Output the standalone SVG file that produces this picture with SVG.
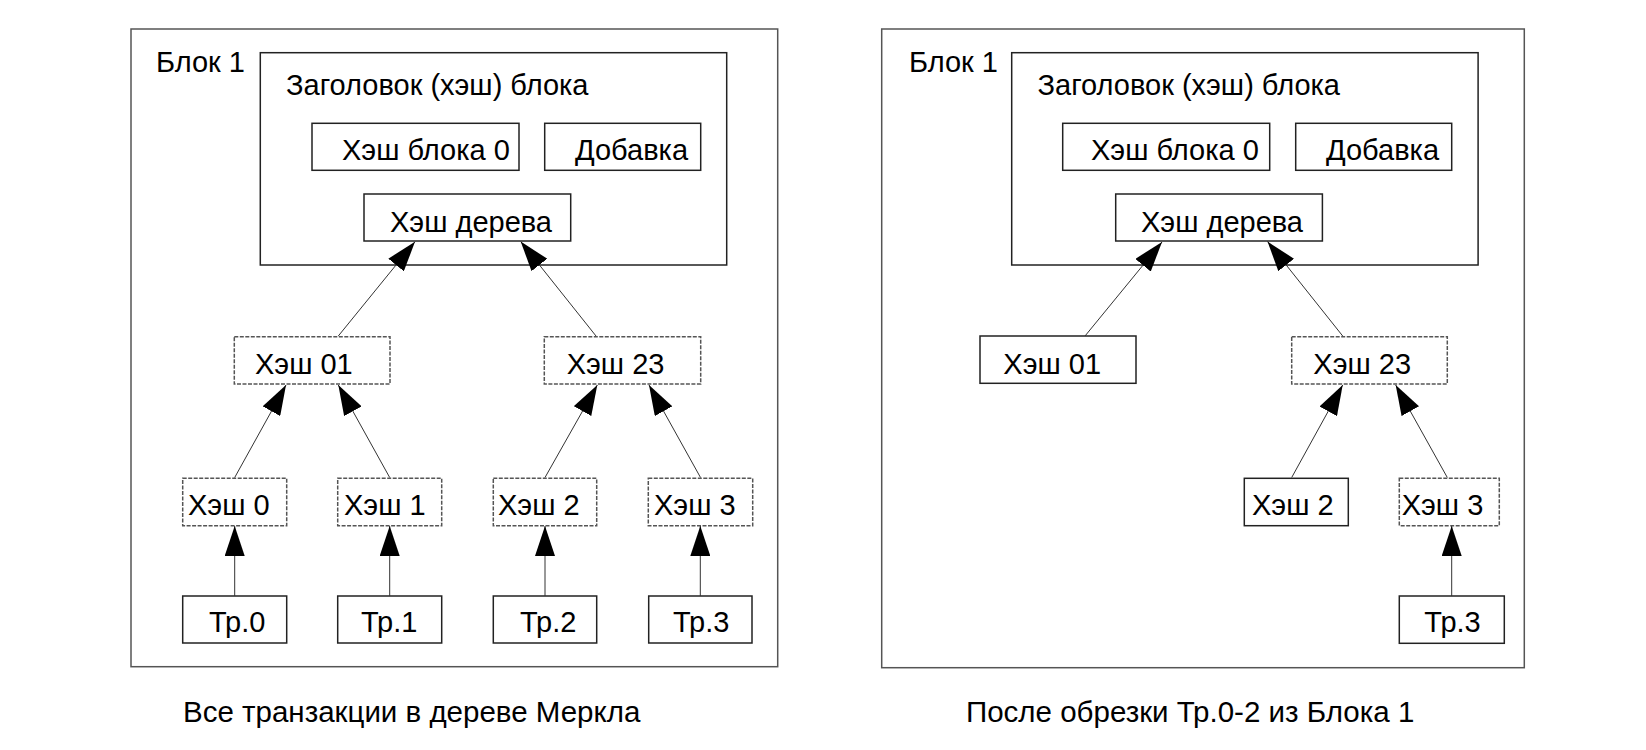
<svg xmlns="http://www.w3.org/2000/svg" width="1646" height="750" viewBox="0 0 1646 750">
<defs>
<marker id="arr" markerUnits="userSpaceOnUse" markerWidth="30" markerHeight="20" viewBox="0 0 30 20" refX="30" refY="10" orient="auto">
<path d="M0,0 L30,10 L0,20 z" fill="#000"/>
</marker>
</defs>
<style>
text{font-family:"Liberation Sans",Arial,sans-serif;font-size:29px;fill:#000}
.cap{font-size:29.5px}
.outer{fill:#fff;stroke:#555;stroke-width:1.5}
.box{fill:#fff;stroke:#222;stroke-width:1.5}
.dash{fill:#fff;stroke:#555;stroke-width:1.5;stroke-dasharray:4 1.5}
.conn line{stroke:#333;stroke-width:1;marker-end:url(#arr)}
</style>
<rect width="1646" height="750" fill="#fff"/>

<!-- LEFT PANEL -->
<g id="block1-left">
<rect class="outer" x="131" y="29" width="646.7" height="637.7"/>
<text x="156" y="72">Блок 1</text>
</g>
<g id="header-left">
<rect class="box" x="260.3" y="52.7" width="466.4" height="212.3"/>
<text x="286" y="95">Заголовок (хэш) блока</text>
</g>
<g id="prevhash-left">
<rect class="box" x="312" y="123.3" width="207" height="47"/>
<text x="342" y="160">Хэш блока 0</text>
</g>
<g id="nonce-left">
<rect class="box" x="544.7" y="123.3" width="156" height="47"/>
<text x="575" y="160">Добавка</text>
</g>
<g id="root-left">
<rect class="box" x="364" y="194" width="206.7" height="47"/>
<text x="390" y="232">Хэш дерева</text>
</g>
<g id="h01-left">
<rect class="dash" x="234.3" y="336.7" width="155.7" height="47.3"/>
<text x="255" y="374">Хэш 01</text>
</g>
<g id="h23-left">
<rect class="dash" x="544.3" y="336.7" width="156.4" height="47.3"/>
<text x="566.7" y="374">Хэш 23</text>
</g>
<g id="h0-left">
<rect class="dash" x="182.7" y="478.3" width="104" height="47.4"/>
<text x="188" y="515">Хэш 0</text>
</g>
<g id="h1-left">
<rect class="dash" x="337.7" y="478.3" width="104" height="47.4"/>
<text x="344" y="515">Хэш 1</text>
</g>
<g id="h2-left">
<rect class="dash" x="493.3" y="478.3" width="103.4" height="47.4"/>
<text x="498" y="515">Хэш 2</text>
</g>
<g id="h3-left">
<rect class="dash" x="648.3" y="478.3" width="104.4" height="47.4"/>
<text x="654" y="515">Хэш 3</text>
</g>
<g id="tx0-left">
<rect class="box" x="182.7" y="596" width="104" height="47"/>
<text x="209" y="632">Тр.0</text>
</g>
<g id="tx1-left">
<rect class="box" x="337.7" y="596" width="104" height="47"/>
<text x="361" y="632">Тр.1</text>
</g>
<g id="tx2-left">
<rect class="box" x="493.3" y="596" width="103.4" height="47"/>
<text x="520" y="632">Тр.2</text>
</g>
<g id="tx3-left">
<rect class="box" x="648.7" y="596" width="103.3" height="47"/>
<text x="673" y="632">Тр.3</text>
</g>
<g id="caption-left">
<text class="cap" x="183" y="722">Все транзакции в дереве Меркла</text>
</g>

<!-- RIGHT PANEL -->
<g id="block1-right">
<rect class="outer" x="881.7" y="29" width="642.6" height="638.7"/>
<text x="909" y="72">Блок 1</text>
</g>
<g id="header-right">
<rect class="box" x="1011.7" y="52.7" width="466.4" height="212.3"/>
<text x="1037.5" y="95">Заголовок (хэш) блока</text>
</g>
<g id="prevhash-right">
<rect class="box" x="1062.7" y="123.3" width="207" height="47"/>
<text x="1091" y="160">Хэш блока 0</text>
</g>
<g id="nonce-right">
<rect class="box" x="1295.7" y="123.3" width="156" height="47"/>
<text x="1326" y="160">Добавка</text>
</g>
<g id="root-right">
<rect class="box" x="1115.7" y="194" width="206.7" height="47"/>
<text x="1141" y="232">Хэш дерева</text>
</g>
<g id="h01-right">
<rect class="box" x="980" y="336" width="156" height="47.3"/>
<text x="1003.3" y="374">Хэш 01</text>
</g>
<g id="h23-right">
<rect class="dash" x="1291.7" y="336.7" width="155.6" height="47.3"/>
<text x="1313.3" y="374">Хэш 23</text>
</g>
<g id="h2-right">
<rect class="box" x="1244.3" y="478.3" width="104" height="47.4"/>
<text x="1252" y="515">Хэш 2</text>
</g>
<g id="h3-right">
<rect class="dash" x="1399.3" y="478.3" width="100" height="47.4"/>
<text x="1401.7" y="515">Хэш 3</text>
</g>
<g id="tx3-right">
<rect class="box" x="1399.3" y="596" width="105" height="47.3"/>
<text x="1424.3" y="632">Тр.3</text>
</g>
<g id="caption-right">
<text class="cap" x="966" y="722">После обрезки Тр.0-2 из Блока 1</text>
</g>

<!-- CONNECTORS -->
<g id="connectors" class="conn">
<line x1="338.3" y1="336" x2="415" y2="241.7"/>
<line x1="596" y1="336" x2="520.7" y2="241.5"/>
<line x1="234.7" y1="477.5" x2="286" y2="385"/>
<line x1="389.7" y1="477.5" x2="338.3" y2="385"/>
<line x1="545" y1="477.5" x2="597.3" y2="385"/>
<line x1="700.5" y1="477.5" x2="649" y2="385"/>
<line x1="234.7" y1="596" x2="234.7" y2="526"/>
<line x1="389.7" y1="596" x2="389.7" y2="526"/>
<line x1="545" y1="596" x2="545" y2="526"/>
<line x1="700.3" y1="596" x2="700.3" y2="526"/>
<line x1="1085" y1="336" x2="1162" y2="242"/>
<line x1="1342.7" y1="336" x2="1267.5" y2="241.5"/>
<line x1="1291.7" y1="477.5" x2="1342.7" y2="385"/>
<line x1="1447.3" y1="477.5" x2="1395.7" y2="385"/>
<line x1="1451.7" y1="596" x2="1451.7" y2="526"/>
</g>
</svg>
